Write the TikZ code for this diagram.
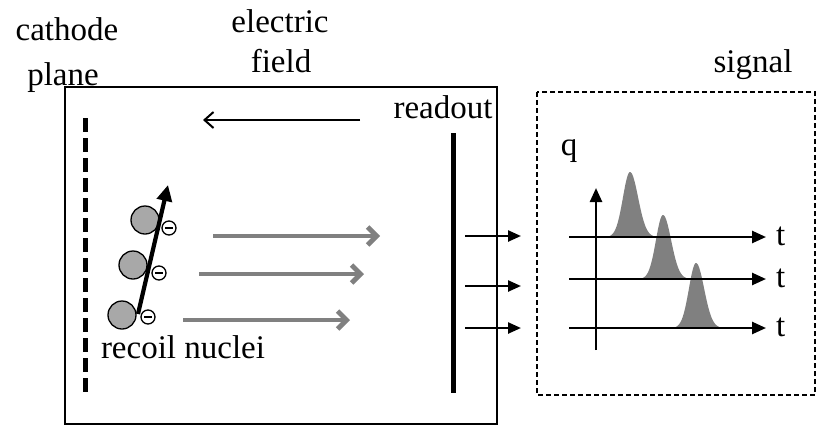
\documentclass[tikz,border=0pt]{standalone}
\usepackage{fontspec}
\setmainfont{Liberation Serif}
\usetikzlibrary{arrows.meta}
\definecolor{arrgray}{RGB}{128,128,128}
\definecolor{nucgray}{RGB}{168,168,168}
\begin{document}
\begin{tikzpicture}[x=1pt,y=-1pt,
  lbl/.style={font=\fontsize{33}{38}\selectfont, inner sep=0pt, anchor=base},
  nucleus/.style={circle, draw=black, line width=1.3pt, fill=nucgray, minimum size=28pt, inner sep=0pt},
  elec/.style={circle, draw=black, line width=1.3pt, fill=white, minimum size=14pt, inner sep=0pt,
     path picture={\draw[line width=2.4pt] ([xshift=-3.6pt]path picture bounding box.center) -- ([xshift=3.6pt]path picture bounding box.center);}},
  drift/.style={draw=arrgray, line width=4.8pt, -{Straight Barb[length=9pt,width=18pt]}},
  outarr/.style={line width=2.4pt, -{Triangle[length=13pt,width=11pt]}},
  axis/.style={line width=2.5pt, -{Triangle[length=14pt,width=12pt]}},
  pulse/.style={fill=arrgray, draw=none}
]
\useasboundingbox (0,0) rectangle (818,426);

% boxes
\draw[line width=2pt] (65,87) rectangle (497,424);
\draw[line width=2pt, dash pattern=on 5pt off 3pt] (537,92) rectangle (815,395);

% labels
\node[lbl] (cathode) at (67,40) {cathode};
\node[lbl] (plane) at (63,85) {plane};
\node[lbl] (electric) at (280,32) {electric};
\node[lbl] (field) at (281,72) {field};
\node[lbl] (signal) at (753,72) {signal};
\node[lbl] (readout) at (443,118) {readout};
\node[lbl] (q) at (569,155) {q};
\node[lbl] (recoil) at (183,358) {recoil nuclei};

% cathode plane
\coordinate (c0) at (85,118);
\coordinate (c1) at (85,395);
\draw[line width=5pt, dash pattern=on 14pt off 6pt] (c0) -- (c1);

% electric field arrow
\coordinate (ef0) at (360,120);
\coordinate (ef1) at (203,120);
\draw[line width=2pt, -{Straight Barb[length=9pt,width=16pt]}] (ef0) -- (ef1);

% readout plane
\coordinate (r0) at (453,133);
\coordinate (r1) at (453,393);
\draw[line width=5pt] (r0) -- (r1);

% drift arrows
\coordinate (d1a) at (213,236); \coordinate (d1b) at (380,236);
\coordinate (d2a) at (199,274); \coordinate (d2b) at (364,274);
\coordinate (d3a) at (183,320); \coordinate (d3b) at (350,320);
\draw[drift] (d1a) -- (d1b);
\draw[drift] (d2a) -- (d2b);
\draw[drift] (d3a) -- (d3b);

% readout output arrows
\coordinate (o1a) at (465,236); \coordinate (o1b) at (521,236);
\coordinate (o2a) at (465,286); \coordinate (o2b) at (521,286);
\coordinate (o3a) at (465,328); \coordinate (o3b) at (521,328);
\draw[outarr] (o1a) -- (o1b);
\draw[outarr] (o2a) -- (o2b);
\draw[outarr] (o3a) -- (o3b);

% nuclei
\node[nucleus] (n1) at (145,220) {};
\node[nucleus] (n2) at (133,265) {};
\node[nucleus] (n3) at (122,315) {};
\coordinate (ta) at (138,314);
\coordinate (tb) at (168,185);
\draw[line width=4.2pt, -{Triangle[length=16pt,width=15pt]}] (ta) -- (tb);
\node[elec] (e1) at (169,228) {};
\node[elec] (e2) at (159,273) {};
\node[elec] (e3) at (148,317) {};

% pulses
\fill[pulse] plot[domain=-25:28, samples=90] ({630+\x}, {237-65*exp(-(\x/((\x<0)?10:11.5))^2)}) -- cycle;
\fill[pulse] plot[domain=-25:28, samples=90] ({663+\x}, {279-64*exp(-(\x/((\x<0)?10:11.5))^2)}) -- cycle;
\fill[pulse] plot[domain=-25:28, samples=90] ({696+\x}, {328-65*exp(-(\x/((\x<0)?10:11.5))^2)}) -- cycle;

% signal axes
\coordinate (v0) at (596,350); \coordinate (v1) at (596,188);
\draw[axis] (v0) -- (v1);
\coordinate (h1a) at (569,237); \coordinate (h1b) at (766,237);
\coordinate (h2a) at (569,279); \coordinate (h2b) at (766,279);
\coordinate (h3a) at (569,328); \coordinate (h3b) at (766,328);
\draw[axis] (h1a) -- (h1b);
\draw[axis] (h2a) -- (h2b);
\draw[axis] (h3a) -- (h3b);
\node[lbl, anchor=west] (t1) at (776,236) {t};
\node[lbl, anchor=west] (t2) at (776,278) {t};
\node[lbl, anchor=west] (t3) at (776,327) {t};
\end{tikzpicture}
\end{document}
